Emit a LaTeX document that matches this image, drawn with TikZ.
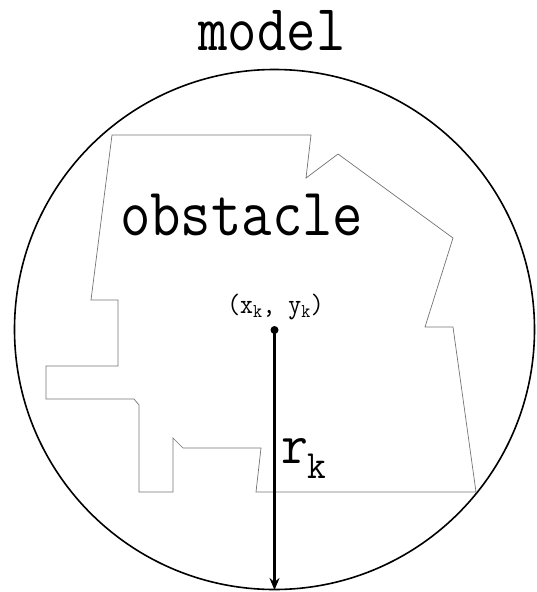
\documentclass[tikz,border=0pt]{standalone}
\usepackage{graphicx}
\usetikzlibrary{arrows.meta}
\newcommand{\vstretch}[2]{\scalebox{1}[#1]{#2}}
\begin{document}
\begin{tikzpicture}[x=1pt,y=-1pt,
  obst/.style={draw=black!55, line width=0.7pt, line join=miter},
  bound/.style={draw=black, line width=1.6pt},
  radius line/.style={draw=black, line width=2.4pt, -{Stealth[length=12pt,width=10pt]}},
  bigtext/.style={inner sep=0pt, font=\fontsize{58}{60}\selectfont\ttfamily},
  smalltext/.style={inner sep=0pt, font=\fontsize{25}{27}\selectfont\ttfamily}]
\useasboundingbox (0,0) rectangle (536,592);
\coordinate (c) at (274.5,330);
\coordinate (b) at (274.5,590);
\draw[bound] (274.5,329.5) circle[radius=260];
\draw[obst] (112,135) -- (311,135) -- (306,178) -- (338,154) -- (453,238)
  -- (425,327) -- (453,327) -- (476,492) -- (256,492) -- (261,448) -- (183,448)
  -- (173,438) -- (173,492) -- (139,492) -- (139,405) -- (134,399) -- (46,399)
  -- (46,366) -- (118,366) -- (118,300) -- (91,300) -- cycle;
\node[bigtext, anchor=base, font=\fontsize{57}{60}\selectfont\ttfamily] (model) at (272,50) {\vstretch{1.15}{model}};
\node[bigtext, anchor=base west, font=\fontsize{59}{60}\selectfont\ttfamily] (obstacle) at (120,235) {\vstretch{1.15}{obstacle}};
\node[smalltext, anchor=base] (xy) at (275.5,313) {\vstretch{1.12}{(x\textsubscript{k}, y\textsubscript{k})}};
\node[bigtext, anchor=base west, font=\fontsize{52}{54}\selectfont\ttfamily] (rk) at (281,463) {\vstretch{1.1}{r\textsubscript{k}}};
\draw[radius line] (c) -- (b);
\fill (c) circle[radius=4];
\end{tikzpicture}
\end{document}
